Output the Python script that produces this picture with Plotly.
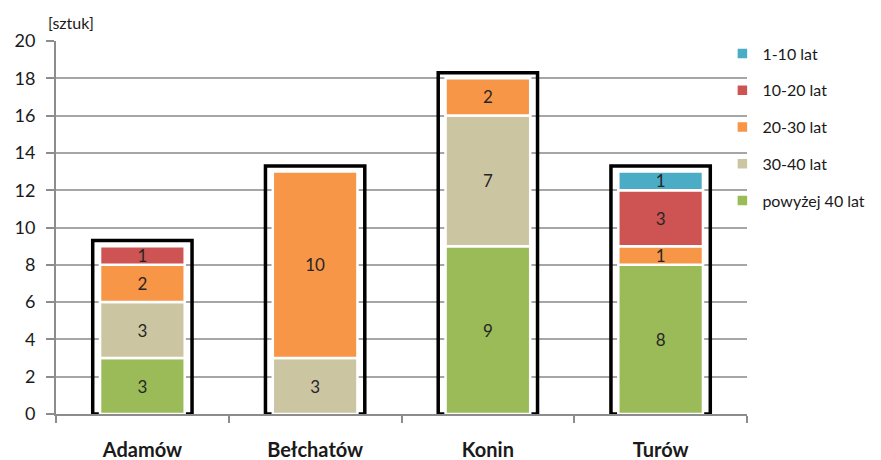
import numpy as np
import plotly.graph_objects as go

# Kopalnie (kategorie) i liczba maszyn wg wieku
kategorie = ["Adamów", "Bełchatów", "Konin", "Turów"]
powyzej_40 = [3, 0, 9, 8]
lat_30_40 = [3, 3, 7, 0]
lat_20_30 = [2, 10, 2, 1]
lat_10_20 = [1, 0, 0, 3]
lat_1_10 = [0, 0, 0, 1]

serie = [
    ("powyżej 40 lat", powyzej_40, "#9BBB59"),
    ("30-40 lat", lat_30_40, "#CCC5A2"),
    ("20-30 lat", lat_20_30, "#F79646"),
    ("10-20 lat", lat_10_20, "#CD5452"),
    ("1-10 lat", lat_1_10, "#4BACC6"),
]

fig = go.Figure()

# czarna ramka wokół każdego słupka (suma + niewielki zapas)
sumy = np.sum([s[1] for s in serie], axis=0)
fig.add_trace(go.Bar(
    x=kategorie, y=sumy + 0.3, base=0, width=0.575,
    marker=dict(color="rgba(0,0,0,0)", line=dict(color="#000000", width=3.5)),
    showlegend=False, hoverinfo="skip",
))

# segmenty skumulowane
podstawa = np.zeros(len(kategorie))
for i, (nazwa, wartosci, kolor) in enumerate(serie):
    w = np.array(wartosci, dtype=float)
    y = [v if v > 0 else None for v in w]
    fig.add_trace(go.Bar(
        x=kategorie, y=y, base=podstawa.copy(), width=0.49, name=nazwa,
        legendgroup=nazwa, legendrank=len(serie) - i,
        marker=dict(color=kolor, line=dict(color="#FFFFFF", width=2.5)),
        text=[str(int(v)) if v > 0 else "" for v in w],
        textposition="inside", insidetextanchor="middle", textangle=0,
        constraintext="none",
        textfont=dict(family="Lato", size=17, color="#262626"),
    ))
    podstawa += w

fig.update_layout(
    width=881, height=460,
    margin=dict(l=56, r=133, t=41, b=46),
    barmode="overlay",
    paper_bgcolor="#FFFFFF", plot_bgcolor="#FFFFFF",
    font=dict(family="Lato", size=16, color="#1a1a1a"),
    legend=dict(
        x=0.963, xanchor="left", y=1.012, yanchor="top",
        traceorder="grouped", tracegroupgap=13,
        bgcolor="rgba(0,0,0,0)", itemwidth=30,
        font=dict(family="Lato", size=16, color="#1a1a1a"),
    ),
    annotations=[dict(
        text="[sztuk]", xref="paper", yref="paper", x=-0.014, y=1.02,
        xanchor="left", yanchor="bottom", showarrow=False,
        font=dict(family="Lato", size=16, color="#1a1a1a"),
    )],
)

fig.update_xaxes(
    showline=True, linecolor="#8c8c8c", linewidth=2, automargin=False,
    ticks="outside", tickson="boundaries", ticklen=7, tickcolor="#8c8c8c", tickwidth=2,
    tickfont=dict(family="Lato", size=20, color="#1a1a1a", weight="bold"),
    ticklabelstandoff=17, showgrid=False,
)
fig.update_yaxes(
    range=[0, 20], dtick=2, showline=True, linecolor="#8c8c8c", linewidth=2,
    automargin=False,
    ticks="outside", ticklen=8, tickcolor="#8c8c8c", tickwidth=2,
    showgrid=True, gridcolor="#a6a6a6", gridwidth=2,
    tickfont=dict(family="Lato", size=18, color="#1a1a1a"),
    ticklabelstandoff=7, zeroline=False,
)

fig.write_html("out.html")
